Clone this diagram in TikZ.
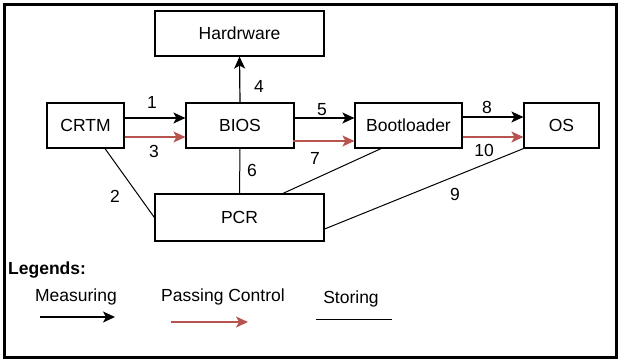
\documentclass[tikz,border=0pt]{standalone}
\usepackage{fontspec}
\setmainfont{Liberation Sans}
\usetikzlibrary{arrows.meta,calc}
\definecolor{ctrlred}{RGB}{184,84,80}
\tikzset{
  box/.style={draw=black,line width=1.2pt,minimum height=45pt,inner sep=0pt,fill=white},
  meas/.style={line width=1.2pt,-{Stealth[length=12pt,width=11pt,inset=3pt]}},
  ctrl/.style={draw=ctrlred,line width=1.2pt,-{Stealth[length=12pt,width=11pt,inset=3pt]}},
  store/.style={line width=1pt},
  num/.style={inner sep=0pt},
  txt/.style={inner sep=0pt}
}
\begin{document}
\begin{tikzpicture}[x=1pt,y=-1pt,font=\fontsize{17.5}{20}\selectfont]
\useasboundingbox (0,0) rectangle (620,362);
\fill[white] (0,0) rectangle (620,362);
\draw[line width=3pt] (4,4.5) rectangle (616.5,357.5);

% components
\node[box,minimum width=169pt] (hw)   at (239.5,33.5) {Hardrware};
\node[box,minimum width=77pt]  (crtm) at (85.5,125.5) {CRTM};
\node[box,minimum width=108pt] (bios) at (240,125.5)  {BIOS};
\node[box,minimum width=107pt] (boot) at (408.5,125.5) {Bootloader};
\node[box,minimum width=75pt]  (os)   at (561.5,125.5) {OS};
\node[box,minimum width=169pt,minimum height=47pt] (pcr) at (239.5,217.5) {PCR};

% measuring
\draw[meas] ($(crtm.east)+(0,-7.5)$) -- ($(bios.west)+(0,-7.5)$);
\draw[meas] (bios.north) -- (hw.south);
\draw[meas] ($(bios.east)+(0,-7.5)$) -- ($(boot.west)+(0,-7.5)$);
\draw[meas] ($(boot.east)+(0,-8.5)$) -- ($(os.west)+(0,-8.5)$);

% passing control
\draw[ctrl] ($(crtm.east)+(0,11.5)$) -- ($(bios.west)+(0,11.5)$);
\draw[ctrl] ($(bios.east)+(-2,15.5)$) -- ($(boot.west)+(0,15.5)$);
\draw[ctrl] ($(boot.east)+(0,11.5)$) -- ($(os.west)+(0,11.5)$);

% storing
\draw[store] ($(crtm.south)+(19.5,0)$) -- (pcr.west);
\draw[store] (bios.south) -- (pcr.north);
\draw[store] ($(boot.south)+(-27.5,0)$) -- ($(pcr.north)+(43.5,0)$);
\draw[store] (os.south west) -- ($(pcr.east)+(0,11.5)$);

% step numbers
\node[num] (n1)  at (152,102) {1};
\node[num] (n2)  at (115,196) {2};
\node[num] (n3)  at (154,151) {3};
\node[num] (n4)  at (259,86)  {4};
\node[num] (n5)  at (322,110) {5};
\node[num] (n6)  at (252,170) {6};
\node[num] (n7)  at (315,158) {7};
\node[num] (n8)  at (487,107) {8};
\node[num] (n9)  at (455,194) {9};
\node[num] (n10) at (484,150) {10};

% legend
\node[txt,anchor=west,font=\fontsize{17.5}{20}\selectfont\bfseries] (leg) at (8,270) {Legends:};
\node[txt] (lmeas)  at (76,297)  {Measuring};
\node[txt] (lctrl)  at (223,297) {Passing Control};
\node[txt] (lstore) at (351,299) {Storing};
\coordinate (ma) at (40,317);  \coordinate (mb) at (115,317);
\coordinate (ca) at (171,322); \coordinate (cb) at (248,322);
\coordinate (sa) at (316,319); \coordinate (sb) at (392,319);
\draw[meas] (ma) -- (mb);
\draw[ctrl] (ca) -- (cb);
\draw[store] (sa) -- (sb);
\end{tikzpicture}
\end{document}
